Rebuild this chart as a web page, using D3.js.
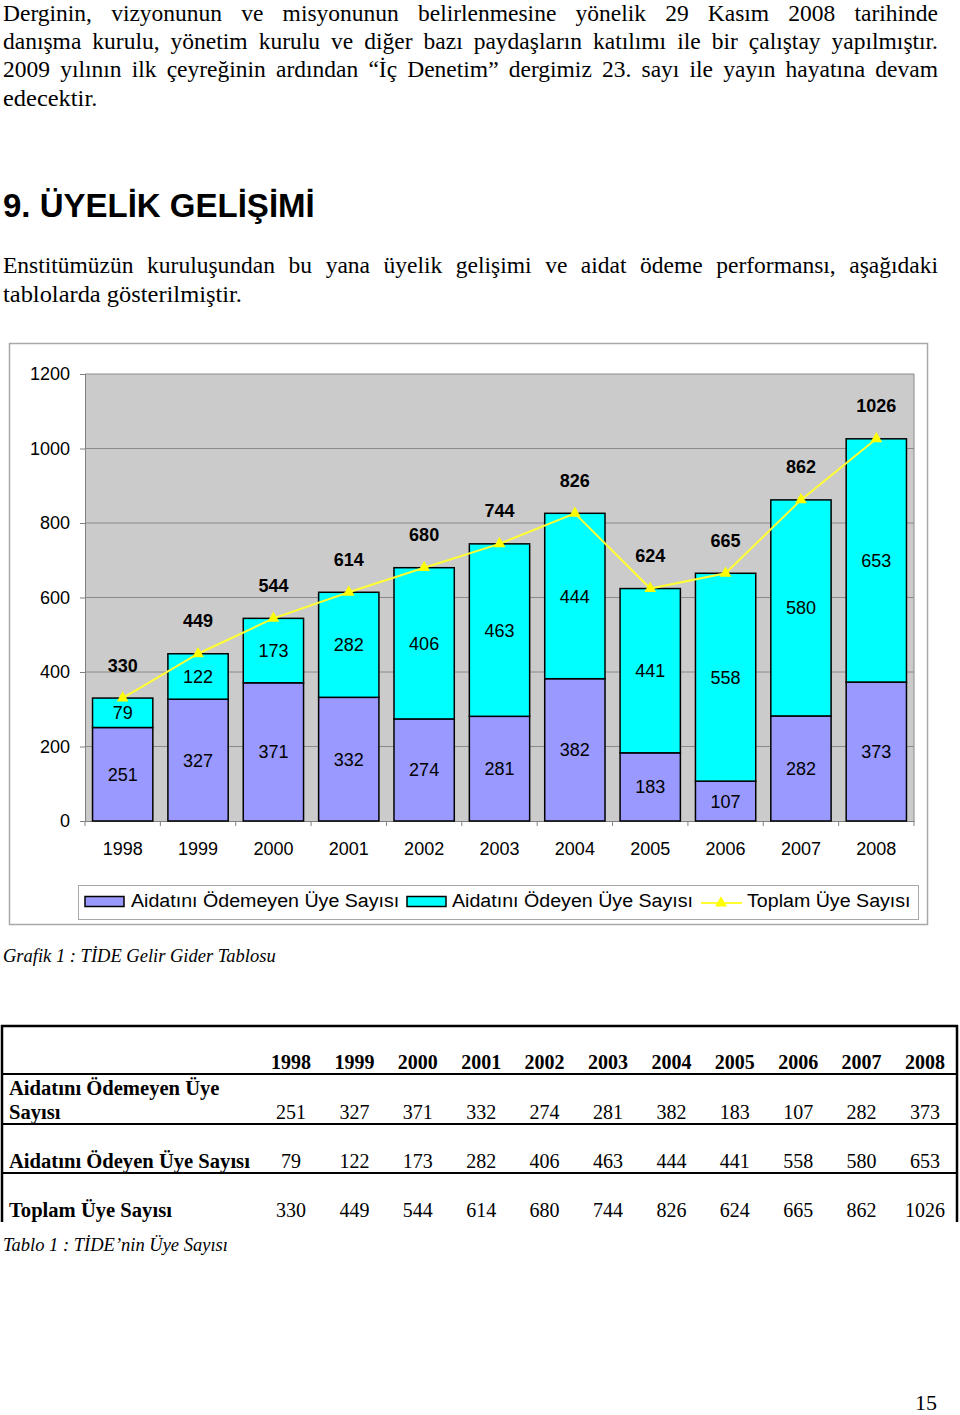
<!DOCTYPE html>
<html><head><meta charset="utf-8">
<script src="https://cdn.jsdelivr.net/npm/d3@7"></script>
<style>html,body{margin:0;padding:0;background:#fff;}svg{display:block;}</style>
</head><body>
<script>
const years = ["1998","1999","2000","2001","2002","2003","2004","2005","2006","2007","2008"];
const unpaid = [251,327,371,332,274,281,382,183,107,282,373];
const paid = [79,122,173,282,406,463,444,441,558,580,653];
const total = [330,449,544,614,680,744,826,624,665,862,1026];
const yTicks = [0,200,400,600,800,1000,1200];
const seriesNames = ["Aidatını Ödemeyen Üye Sayısı","Aidatını Ödeyen Üye Sayısı","Toplam Üye Sayısı"];
const para1 = ["Derginin, vizyonunun ve misyonunun belirlenmesine yönelik 29 Kasım 2008 tarihinde",
  "danışma kurulu, yönetim kurulu ve diğer bazı paydaşların katılımı ile bir çalıştay yapılmıştır.",
  "2009 yılının ilk çeyreğinin ardından “İç Denetim” dergimiz 23. sayı ile yayın hayatına devam",
  "edecektir."];
const heading = "9. ÜYELİK GELİŞİMİ";
const para2 = ["Enstitümüzün kuruluşundan bu yana üyelik gelişimi ve aidat ödeme performansı, aşağıdaki",
  "tablolarda gösterilmiştir."];
const caption1 = "Grafik 1 : TİDE Gelir Gider Tablosu";
const caption2 = "Tablo 1 : TİDE’nin Üye Sayısı";
const rowLabels = [["Aidatını Ödemeyen Üye","Sayısı"],["Aidatını Ödeyen Üye Sayısı"],["Toplam Üye Sayısı"]];
const pageNum = "15";

const W = 960, H = 1415;
const svg = d3.select("body").append("svg").attr("width", W).attr("height", H);
const SERIF = "'Liberation Serif','Times New Roman',serif";
const SANS = "'Liberation Sans',Arial,sans-serif";

function stretch(sel, k) {
  const len = sel.node().getComputedTextLength();
  sel.attr("textLength", len * k).attr("lengthAdjust", "spacingAndGlyphs");
}

function justify(text, x0, x1, y, size, just) {
  const t = svg.append("text").attr("y", y).attr("font-family", SERIF).attr("font-size", size).attr("fill", "#000");
  if (!just) { t.attr("x", x0).text(text); stretch(t, 1.04); return; }
  const words = text.split(" ");
  const spans = words.map(w => t.append("tspan").text(w));
  let widths = spans.map(s => s.node().getComputedTextLength());
  let sum = d3.sum(widths);
  let gap = (x1 - x0 - sum) / (words.length - 1);
  if (gap < 4) {
    const k = (x1 - x0 - 4 * (words.length - 1)) / sum;
    spans.forEach((s, i) => s.attr("textLength", widths[i] * k).attr("lengthAdjust", "spacingAndGlyphs"));
    widths = widths.map(w => w * k); gap = 4;
  }
  let x = x0;
  spans.forEach((s, i) => { s.attr("x", x); x += widths[i] + gap; });
}

// Paragraph 1
const p1y = [20.5, 48.5, 77, 105.5];
para1.forEach((l, i) => justify(l, 3, 938, p1y[i], 23.5, i < para1.length - 1));
// Heading
svg.append("text").attr("x", 3).attr("y", 217).attr("font-family", SANS).attr("font-weight", "bold")
  .attr("font-size", 33).attr("fill", "#000").text(heading);
// Paragraph 2
const p2y = [273, 301.5];
para2.forEach((l, i) => justify(l, 3, 938, p2y[i], 23.5, i < para2.length - 1));

// ---- Chart ----
svg.append("rect").attr("x", 9.5).attr("y", 343.5).attr("width", 918).attr("height", 581)
  .attr("fill", "#fff").attr("stroke", "#a8a8a8").attr("stroke-width", 1.5);

const x = d3.scaleBand().domain(years).range([85, 914]).paddingInner(0.2).paddingOuter(0.1);
const y = d3.scaleLinear().domain([0, 1200]).range([821, 374]);
const step = x.step();

const plot = svg.append("g");
plot.append("rect").attr("x", 85).attr("y", y(1200)).attr("width", 914 - 85).attr("height", y(0) - y(1200))
  .attr("fill", "#cbcbcb");
plot.selectAll("line.grid").data(yTicks.filter(d => d > 0)).join("line").attr("class", "grid")
  .attr("x1", 85).attr("x2", 914).attr("y1", d => y(d)).attr("y2", d => y(d))
  .attr("stroke", "#8a8a8a").attr("stroke-width", 1);
plot.append("line").attr("x1", 914).attr("x2", 914).attr("y1", y(1200)).attr("y2", y(0))
  .attr("stroke", "#8a8a8a").attr("stroke-width", 1);

// y axis
const yAxis = svg.append("g").attr("transform", "translate(85,0)")
  .call(d3.axisLeft(y).tickValues(yTicks).tickFormat(d3.format("d")).tickSize(5).tickPadding(10));
yAxis.select(".domain").attr("stroke", "#808080");
yAxis.selectAll(".tick line").attr("stroke", "#808080");
yAxis.selectAll("text").attr("font-family", SANS).attr("font-size", 18).attr("fill", "#000");

// x axis
const xAxis = svg.append("g").attr("transform", "translate(0,821)")
  .call(d3.axisBottom(x).tickSize(0).tickPadding(21));
xAxis.select(".domain").attr("stroke", "#808080");
xAxis.selectAll("text").attr("font-family", SANS).attr("font-size", 18).attr("fill", "#000");
const bounds = years.map(d => x(d) - x.paddingOuter() * step).concat([914]);
xAxis.selectAll("line.bt").data(bounds).join("line").attr("class", "bt")
  .attr("x1", d => d).attr("x2", d => d).attr("y1", 0).attr("y2", 5).attr("stroke", "#808080");

// bars
const data = years.map((yr, i) => ({ yr, u: unpaid[i], p: paid[i], t: total[i] }));
const bars = svg.append("g");
bars.selectAll("rect.u").data(data).join("rect").attr("class", "u")
  .attr("x", d => x(d.yr)).attr("width", x.bandwidth())
  .attr("y", d => y(d.u)).attr("height", d => y(0) - y(d.u))
  .attr("fill", "#9999ff").attr("stroke", "#000").attr("stroke-width", 1.5);
bars.selectAll("rect.p").data(data).join("rect").attr("class", "p")
  .attr("x", d => x(d.yr)).attr("width", x.bandwidth())
  .attr("y", d => y(d.u + d.p)).attr("height", d => y(d.u) - y(d.u + d.p))
  .attr("fill", "#00ffff").attr("stroke", "#000").attr("stroke-width", 1.5);

// segment labels
const cx = d => x(d.yr) + x.bandwidth() / 2;
bars.selectAll("text.u").data(data).join("text").attr("class", "u")
  .attr("x", cx).attr("y", d => (y(0) + y(d.u)) / 2 + 6.5).attr("text-anchor", "middle")
  .attr("font-family", SANS).attr("font-size", 18).attr("fill", "#000").text(d => d.u);
bars.selectAll("text.p").data(data).join("text").attr("class", "p")
  .attr("x", cx).attr("y", d => (y(d.u) + y(d.u + d.p)) / 2 + 6.5).attr("text-anchor", "middle")
  .attr("font-family", SANS).attr("font-size", 18).attr("fill", "#000").text(d => d.p);

// total line
const line = d3.line().x(d => cx(d)).y(d => y(d.t));
svg.append("path").datum(data).attr("d", line).attr("fill", "none").attr("stroke", "#ffff33").attr("stroke-width", 2);
const tri = d3.symbol().type(d3.symbolTriangle).size(60);
svg.selectAll("path.mk").data(data).join("path").attr("class", "mk")
  .attr("transform", d => `translate(${cx(d)},${y(d.t)})`).attr("d", tri).attr("fill", "#ffff00");
svg.selectAll("text.tot").data(data).join("text").attr("class", "tot")
  .attr("x", cx).attr("y", d => y(d.t) - 26.5).attr("text-anchor", "middle")
  .attr("font-family", SANS).attr("font-weight", "bold").attr("font-size", 18).attr("fill", "#000").text(d => d.t);

// legend
const lg = svg.append("g");
lg.append("rect").attr("x", 78.5).attr("y", 885.5).attr("width", 840).attr("height", 34)
  .attr("fill", "#fff").attr("stroke", "#a8a8a8").attr("stroke-width", 1);
lg.append("rect").attr("x", 85).attr("y", 896.5).attr("width", 39).attr("height", 10)
  .attr("fill", "#9999ff").attr("stroke", "#000").attr("stroke-width", 1.5);
lg.append("rect").attr("x", 407).attr("y", 896.5).attr("width", 39).attr("height", 10)
  .attr("fill", "#00ffff").attr("stroke", "#000").attr("stroke-width", 1.5);
lg.append("line").attr("x1", 701).attr("x2", 742).attr("y1", 903).attr("y2", 903).attr("stroke", "#ffff33").attr("stroke-width", 2);
lg.append("path").attr("transform", "translate(721,903)").attr("d", tri).attr("fill", "#ffff00");
[[131, seriesNames[0]], [452, seriesNames[1]], [747, seriesNames[2]]].forEach(([lx, t]) => {
  const tt = lg.append("text").attr("x", lx).attr("y", 907).attr("font-family", SANS).attr("font-size", 18).attr("fill", "#000").text(t);
  stretch(tt, 1.09);
});

// caption 1
svg.append("text").attr("x", 3).attr("y", 962).attr("font-family", SERIF).attr("font-style", "italic")
  .attr("font-size", 18.5).attr("fill", "#000").text(caption1);

// ---- Table ----
const tx = d3.scalePoint().domain(years).range([291, 925]);
const tb = svg.append("g");
const hl = (y0, w) => tb.append("line").attr("x1", 1).attr("x2", 958).attr("y1", y0).attr("y2", y0).attr("stroke", "#000").attr("stroke-width", w);
hl(1026, 2.5); hl(1074, 2); hl(1124, 2); hl(1173, 2);
tb.append("line").attr("x1", 2).attr("x2", 2).attr("y1", 1025).attr("y2", 1222).attr("stroke", "#000").attr("stroke-width", 2.5);
tb.append("line").attr("x1", 957).attr("x2", 957).attr("y1", 1025).attr("y2", 1222).attr("stroke", "#000").attr("stroke-width", 2.5);
tb.selectAll("text.hd").data(years).join("text").attr("class", "hd")
  .attr("x", d => tx(d)).attr("y", 1069).attr("text-anchor", "middle")
  .attr("font-family", SERIF).attr("font-weight", "bold").attr("font-size", 20).attr("fill", "#000").text(d => d);
const rows = [unpaid, paid, total];
const rowY = [1119, 1168, 1217];
rows.forEach((arr, r) => {
  tb.selectAll("text.r" + r).data(arr).join("text").attr("class", "r" + r)
    .attr("x", (d, i) => tx(years[i])).attr("y", rowY[r]).attr("text-anchor", "middle")
    .attr("font-family", SERIF).attr("font-size", 20).attr("fill", "#000").text(d => d);
  const lbl = rowLabels[r];
  lbl.forEach((t, k) => tb.append("text").attr("x", 9).attr("y", rowY[r] - (lbl.length - 1 - k) * 24.5)
    .attr("font-family", SERIF).attr("font-weight", "bold").attr("font-size", 20.6).attr("fill", "#000").text(t));
});

svg.append("text").attr("x", 3).attr("y", 1251).attr("font-family", SERIF).attr("font-style", "italic")
  .attr("font-size", 18.5).attr("fill", "#000").text(caption2);
svg.append("text").attr("x", 937).attr("y", 1410).attr("text-anchor", "end").attr("font-family", SERIF)
  .attr("font-size", 22).attr("fill", "#000").text(pageNum);
</script>
</body></html>
